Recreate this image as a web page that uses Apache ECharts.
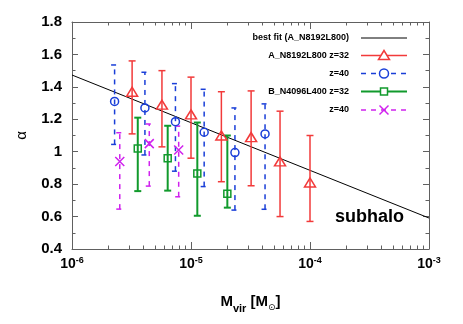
<!DOCTYPE html>
<html><head><meta charset="utf-8">
<script src="https://cdn.jsdelivr.net/npm/echarts@6.0.0/dist/echarts.min.js"></script>
<style>html,body{margin:0;padding:0;background:#fff}#c{width:463px;height:324px}</style>
</head><body><div id="c"></div>
<script>
// A_N8192L800 z=32
const aZ32M = [3.2e-6, 5.7e-6, 1.0e-5, 1.8e-5, 3.2e-5, 5.6e-5, 1.0e-4];
const aZ32Alpha = [1.37, 1.29, 1.23, 1.10, 1.09, 0.94, 0.81];
const aZ32Lo = [1.11, 1.03, 0.96, 0.815, 0.79, 0.60, 0.57];
const aZ32Hi = [1.56, 1.50, 1.46, 1.37, 1.375, 1.25, 1.10];
// A_N8192L800 z=40
const aZ40M = [2.28e-6, 4.1e-6, 7.4e-6, 1.29e-5, 2.34e-5, 4.19e-5];
const aZ40Alpha = [1.31, 1.27, 1.185, 1.12, 0.995, 1.11];
const aZ40Lo = [1.045, 0.98, 0.88, 0.785, 0.64, 0.645];
const aZ40Hi = [1.535, 1.49, 1.42, 1.385, 1.27, 1.295];
// B_N4096L400 z=32
const bZ32M = [3.57e-6, 6.37e-6, 1.13e-5, 2.02e-5];
const bZ32Alpha = [1.02, 0.96, 0.865, 0.74];
const bZ32Lo = [0.757, 0.76, 0.605, 0.655];
const bZ32Hi = [1.21, 1.16, 1.18, 1.10];
// B_N4096L400 z=40
const bZ40M = [2.52e-6, 4.46e-6, 7.88e-6];
const bZ40Alpha = [0.94, 1.05, 1.01];
const bZ40Lo = [0.646, 0.788, 0.722];
const bZ40Hi = [1.117, 1.171, 1.158];
// best fit (A_N8192L800)
const fitM = [1e-6, 1e-3];
const fitAlpha = [1.473, 0.591];
// axis ticks
const xMinorTicks = [2e-6,3e-6,4e-6,5e-6,6e-6,7e-6,8e-6,9e-6,2e-5,3e-5,4e-5,5e-5,6e-5,7e-5,8e-5,9e-5,2e-4,3e-4,4e-4,5e-4,6e-4,7e-4,8e-4,9e-4];
const legendLabels = ['best fit (A_N8192L800)', 'A_N8192L800 z=32', 'z=40', 'B_N4096L400 z=32', 'z=40'];

const RED = '#f23a3a', BLUE = '#1a3fd8', GREEN = '#119a2c', MAG = '#d022ee', AX = '#606060';
const FONT = '"Liberation Sans", Arial, Helvetica, sans-serif';

function zip3(m, lo, hi) { return m.map((v, i) => [v, lo[i], hi[i]]); }
function zip2(m, a) { return m.map((v, i) => [v, a[i]]); }

function errRender(color, width, dash, cap) {
  return function (params, api) {
    const x = api.value(0), lo = api.value(1), hi = api.value(2);
    const p1 = api.coord([x, lo]), p2 = api.coord([x, hi]);
    const style = { stroke: color, lineWidth: width, lineDash: dash, fill: null };
    return { type: 'group', children: [
      { type: 'line', shape: { x1: p1[0], y1: p1[1], x2: p2[0], y2: p2[1] }, style: style },
      { type: 'line', shape: { x1: p1[0] - cap, y1: p1[1], x2: p1[0] + cap, y2: p1[1] }, style: style },
      { type: 'line', shape: { x1: p2[0] - cap, y1: p2[1], x2: p2[0] + cap, y2: p2[1] }, style: style }
    ] };
  };
}
function errSeries(m, lo, hi, color, width, dash, cap) {
  return { type: 'custom', xAxisIndex: 0, yAxisIndex: 0, renderItem: errRender(color, width, dash, cap),
    data: zip3(m, lo, hi), encode: { x: 0, y: [1, 2] }, silent: true, z: 3 };
}
function markSeries(m, a, symbol, size, color, bw) {
  return { type: 'scatter', xAxisIndex: 0, yAxisIndex: 0, symbol: symbol, symbolSize: size, data: zip2(m, a),
    itemStyle: { color: 'transparent', borderColor: color, borderWidth: bw, opacity: 1 }, silent: true, z: 4 };
}
const CROSS = 'path://M0,0L10,10M0,10L10,0';

const xLabelFmt = v => '{b|10}{s|' + Math.round(Math.log10(v)) + '}';
const minorLog = xMinorTicks.map(v => Math.log10(v));

const chart = echarts.init(document.getElementById('c'), null, { renderer: 'canvas' });

const rowsY = [38, 55.5, 73.5, 91.5, 110];
const legendStyles = [
  { color: '#000', width: 1, dash: null, marker: null },
  { color: RED, width: 1.5, dash: null, marker: 'tri' },
  { color: BLUE, width: 1.5, dash: [5, 5], marker: 'circ' },
  { color: GREEN, width: 2, dash: null, marker: 'sq' },
  { color: MAG, width: 1.5, dash: [5, 5], marker: 'cross' }
];
const graphics = [];
legendLabels.forEach((t, i) => {
  const y = rowsY[i], st = legendStyles[i], mx = 384;
  graphics.push({ type: 'text', x: 349, y: y, style: { text: t, textAlign: 'right', textVerticalAlign: 'middle',
    font: 'bold 9px ' + FONT, fill: '#000' } });
  graphics.push({ type: 'line', shape: { x1: 361, y1: y, x2: 407, y2: y },
    style: { stroke: st.color, lineWidth: st.width, lineDash: st.dash } });
  const ms = { stroke: st.color, lineWidth: 1.5, fill: '#fff' };
  if (st.marker === 'tri') graphics.push({ type: 'polygon', shape: { points: [[mx, y - 5], [mx - 5.5, y + 4], [mx + 5.5, y + 4]] }, style: ms });
  if (st.marker === 'circ') graphics.push({ type: 'circle', shape: { cx: mx, cy: y, r: 4.5 }, style: ms });
  if (st.marker === 'sq') graphics.push({ type: 'rect', shape: { x: mx - 3.5, y: y - 3.5, width: 7, height: 7 }, style: ms });
  if (st.marker === 'cross') {
    graphics.push({ type: 'line', shape: { x1: mx - 4.5, y1: y - 4.5, x2: mx + 4.5, y2: y + 4.5 }, style: { stroke: st.color, lineWidth: 1.5 } });
    graphics.push({ type: 'line', shape: { x1: mx - 4.5, y1: y + 4.5, x2: mx + 4.5, y2: y - 4.5 }, style: { stroke: st.color, lineWidth: 1.5 } });
  }
});
graphics.push({ type: 'text', x: 335, y: 217, style: { text: 'subhalo', textVerticalAlign: 'middle',
  font: 'bold 18px ' + FONT, fill: '#000' } });

const lineAx = { show: true, lineStyle: { color: AX, width: 1 } };
const minorAxis = pos => ({ type: 'value', min: -6, max: -3, position: pos,
  axisLine: { show: false }, splitLine: { show: false }, axisLabel: { show: false },
  axisTick: { show: true, inside: true, length: 3.5, lineStyle: { color: AX }, customValues: minorLog } });

chart.setOption({
  animation: false,
  backgroundColor: '#fff',
  grid: { left: 72, right: 34, top: 22, bottom: 75, containLabel: false },
  xAxis: [
    { type: 'log', logBase: 10, min: 1e-6, max: 1e-3, position: 'bottom',
      axisLine: lineAx, splitLine: { show: false },
      axisTick: { show: true, inside: true, length: 7, lineStyle: { color: AX } },
      axisLabel: { show: true, margin: 7, formatter: xLabelFmt,
        rich: { b: { fontSize: 14, fontWeight: 'bold', fontFamily: FONT, color: '#000', lineHeight: 16 },
                s: { fontSize: 9, fontWeight: 'bold', fontFamily: FONT, color: '#000', verticalAlign: 'top', lineHeight: 16 } } },
      name: '{m|M}{v|vir}{m| [M}{o|⊙}{m|]}', nameLocation: 'middle', nameGap: 40,
      nameTextStyle: { rich: {
        m: { fontSize: 15, fontWeight: 'bold', fontFamily: FONT, color: '#000', lineHeight: 20, verticalAlign: 'bottom' },
        v: { fontSize: 11, fontWeight: 'bold', fontFamily: FONT, color: '#000', lineHeight: 20, verticalAlign: 'bottom', padding: [0, 0, -5, 0] },
        o: { fontSize: 9, fontFamily: '"DejaVu Sans", sans-serif', color: '#000', lineHeight: 20, verticalAlign: 'bottom', padding: [0, 0, -3, 0] } } } },
    minorAxis('bottom'),
    { type: 'log', logBase: 10, min: 1e-6, max: 1e-3, position: 'top',
      axisLine: lineAx, splitLine: { show: false }, axisLabel: { show: false },
      axisTick: { show: true, inside: true, length: 7, lineStyle: { color: AX } } },
    minorAxis('top')
  ],
  yAxis: [
    { type: 'value', min: 0.4, max: 1.8, interval: 0.2, position: 'left',
      axisLine: lineAx, splitLine: { show: false },
      axisTick: { show: true, inside: true, length: 6, lineStyle: { color: AX } },
      minorTick: { show: true, splitNumber: 2, length: 3.5, lineStyle: { color: AX } },
      axisLabel: { margin: 10, fontSize: 15, fontWeight: 'bold', fontFamily: FONT, color: '#000' },
      name: 'α', nameLocation: 'middle', nameGap: 43, nameRotate: 90,
      nameTextStyle: { fontSize: 15, fontFamily: FONT, color: '#000' } },
    { type: 'value', min: 0.4, max: 1.8, interval: 0.2, position: 'right',
      axisLine: lineAx, splitLine: { show: false }, axisLabel: { show: false },
      axisTick: { show: true, inside: true, length: 6, lineStyle: { color: AX } },
      minorTick: { show: true, splitNumber: 2, length: 3.5, lineStyle: { color: AX } } }
  ],
  graphic: graphics,
  series: [
    { type: 'line', xAxisIndex: 0, yAxisIndex: 0, data: zip2(fitM, fitAlpha), symbol: 'none',
      lineStyle: { color: '#000', width: 1 }, silent: true, z: 2 },
    errSeries(aZ40M, aZ40Lo, aZ40Hi, BLUE, 1.5, [5, 5], 3.5),
    errSeries(bZ40M, bZ40Lo, bZ40Hi, MAG, 1.5, [5, 5], 3.5),
    errSeries(aZ32M, aZ32Lo, aZ32Hi, RED, 1.5, null, 3.5),
    errSeries(bZ32M, bZ32Lo, bZ32Hi, GREEN, 2, null, 3.5),
    markSeries(aZ32M, aZ32Alpha, 'triangle', [11, 9], RED, 1.5),
    markSeries(aZ40M, aZ40Alpha, 'circle', 8, BLUE, 1.5),
    markSeries(bZ32M, bZ32Alpha, 'rect', 7, GREEN, 1.5),
    markSeries(bZ40M, bZ40Alpha, CROSS, 9, MAG, 1.5)
  ]
});
</script></body></html>
